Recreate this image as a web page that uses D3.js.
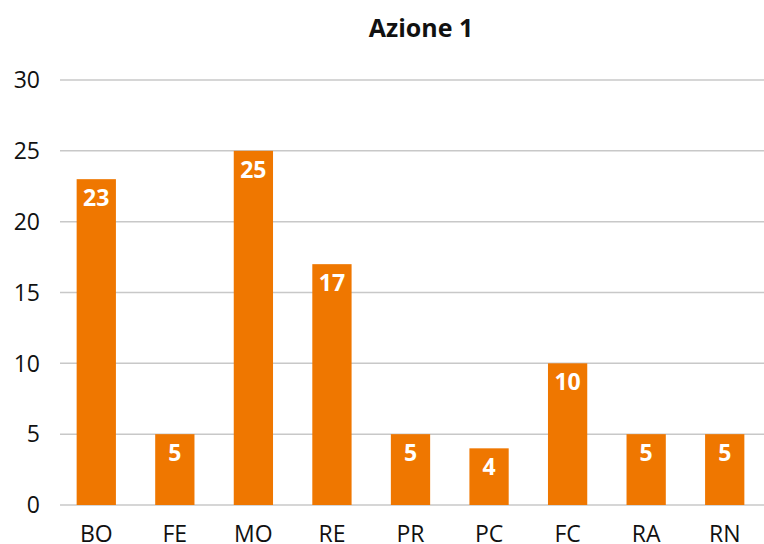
<!DOCTYPE html>
<html lang='en'>
<head>
    <meta charset='utf-8'>
    <title>Azione 1</title>
    <script src="https://d3js.org/d3.v7.min.js"></script>
    <style>
        body { margin: 0; background: white; }
        text { font-family: "Open Sans", sans-serif; }
    </style>
</head>
<body>
    <div id='chart'></div>
    <script>
        const categories = ["BO","FE","MO","RE","PR","PC","FC","RA","RN"];
        const values = [23, 5, 25, 17, 5, 4, 10, 5, 5];
        const yTicks = [0, 5, 10, 15, 20, 25, 30];

        let size = {width: 764, height: 544};
        let plot = {left: 57, right: 764, top: 80, bottom: 505};

        let svg = d3.select("#chart")
                    .append("svg")
                        .attr("width", size.width)
                        .attr("height", size.height);

        let x = d3.scaleBand()
            .domain(categories)
            .range([plot.left, plot.right])
            .paddingInner(0.5)
            .paddingOuter(0.25);

        let y = d3.scaleLinear()
            .domain([0, 30])
            .range([plot.bottom, plot.top]);

        // title
        svg.append("text")
            .attr("x", 421)
            .attr("y", 37)
            .attr("text-anchor", "middle")
            .style("font-size", "25px")
            .style("font-weight", "bold")
            .attr("fill", "#111")
            .text("Azione 1");

        // gridlines
        svg.append("g")
            .selectAll("line")
            .data(yTicks)
            .enter()
            .append("line")
                .attr("x1", 60)
                .attr("x2", size.width)
                .attr("y1", d => y(d))
                .attr("y2", d => y(d))
                .attr("stroke", "#c8c8c8")
                .attr("stroke-width", 1.5);

        // y tick labels
        svg.append("g")
            .selectAll("text")
            .data(yTicks)
            .enter()
            .append("text")
                .attr("x", 40)
                .attr("y", d => y(d))
                .attr("dy", "0.36em")
                .attr("text-anchor", "end")
                .style("font-size", "23px")
                .attr("fill", "#111")
                .text(d => d);

        // bars
        svg.append("g")
            .selectAll("rect")
            .data(values)
            .enter()
            .append("rect")
                .attr("x", (d, i) => x(categories[i]))
                .attr("y", d => y(d))
                .attr("width", x.bandwidth())
                .attr("height", d => y(0) - y(d))
                .attr("fill", "#ef7700");

        // bar value labels
        svg.append("g")
            .selectAll("text")
            .data(values)
            .enter()
            .append("text")
                .attr("x", (d, i) => x(categories[i]) + x.bandwidth() / 2)
                .attr("y", d => y(d) + 27)
                .attr("text-anchor", "middle")
                .style("font-size", "23px")
                .style("font-weight", "bold")
                .attr("fill", "white")
                .text(d => d);

        // x labels
        svg.append("g")
            .selectAll("text")
            .data(categories)
            .enter()
            .append("text")
                .attr("x", d => x(d) + x.bandwidth() / 2)
                .attr("y", 542)
                .attr("text-anchor", "middle")
                .style("font-size", "23px")
                .attr("fill", "#111")
                .text(d => d);
    </script>
</body>
</html>
